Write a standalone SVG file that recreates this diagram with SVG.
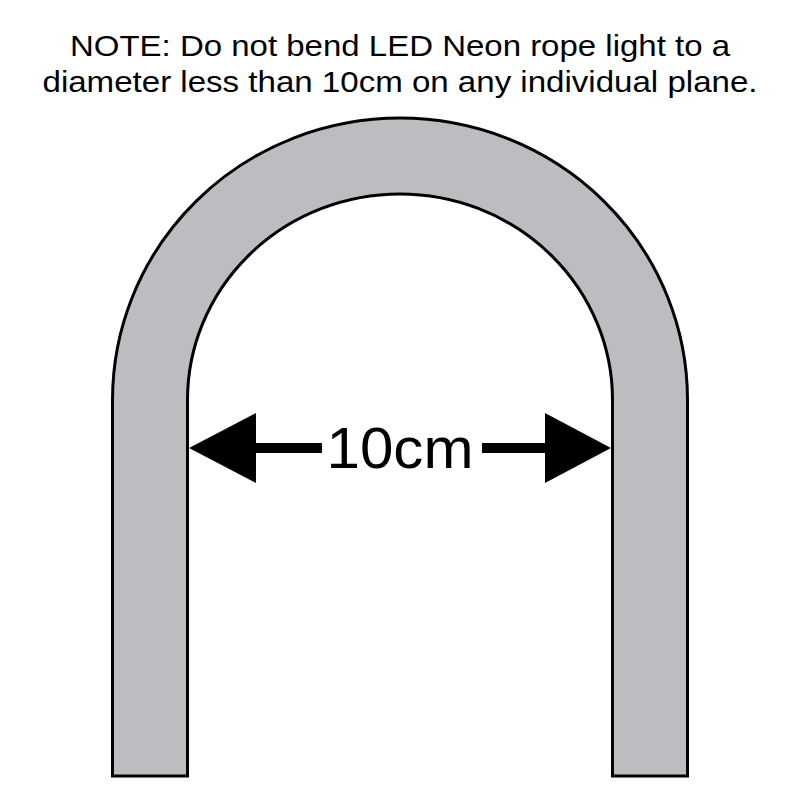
<svg xmlns="http://www.w3.org/2000/svg" width="800" height="800" viewBox="0 0 800 800">
<style>
.t{font-family:"Liberation Sans","DejaVu Sans",sans-serif;fill:#000;text-anchor:middle}
.rope{fill:#bcbdc0;stroke:#000;stroke-width:3}
</style>
<rect width="800" height="800" fill="#fff"/>
<g id="note">
<text class="t" x="400" y="56" font-size="30" textLength="660" lengthAdjust="spacingAndGlyphs">NOTE: Do not bend LED Neon rope light to a</text>
<text class="t" x="400" y="92" font-size="30" textLength="715" lengthAdjust="spacingAndGlyphs">diameter less than 10cm on any individual plane.</text>
</g>
<g id="rope">
<path class="rope" d="M112.5 776 L112.5 400 A287.5 282 0 0 1 687.5 400 L687.5 776 L612.5 776 L612.5 400 A212.5 206 0 0 0 187.5 400 L187.5 776 Z"/>
</g>
<g id="dimension">
<rect x="254" y="443" width="68" height="10" fill="#000"/>
<rect x="482" y="443" width="65" height="10" fill="#000"/>
<polygon points="189,448 256,413 256,483" fill="#000"/>
<polygon points="611,448 545,413 545,483" fill="#000"/>
<text class="t" x="400" y="468" font-size="57" textLength="147" lengthAdjust="spacingAndGlyphs">10cm</text>
</g>
</svg>
